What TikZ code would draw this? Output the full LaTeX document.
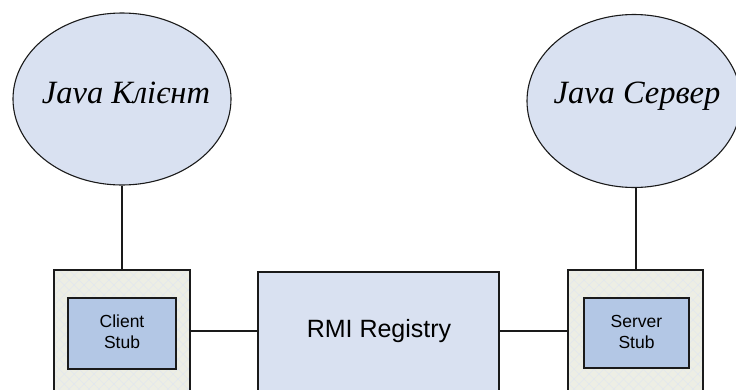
\documentclass[tikz,border=0pt]{standalone}
\usepackage{fontspec}
\setmainfont{Liberation Serif}
\setsansfont{Liberation Sans}
\usetikzlibrary{shapes.geometric,patterns.meta}

\definecolor{ovalfill}{HTML}{D9E1F1}
\definecolor{shellfill}{HTML}{EDEEE4}
\definecolor{hatch}{HTML}{E1E7F0}
\definecolor{stubfill}{HTML}{B3C7E5}
\definecolor{regfill}{HTML}{D9E1F1}
\definecolor{edge}{HTML}{1A1A1A}

\tikzset{
  oval/.style={ellipse, draw=edge, line width=1.1pt, fill=ovalfill,
    minimum width=218pt, minimum height=172pt, inner sep=0pt},
  ovaltext/.style={font=\fontsize{32.5}{38}\selectfont\itshape, anchor=base},
  shell/.style={draw=edge, line width=1.3pt,
    preaction={fill=shellfill},
    preaction={pattern={Lines[angle=45,distance=7pt,line width=0.5pt]}, pattern color=hatch},
    preaction={pattern={Lines[angle=-45,distance=7pt,line width=0.5pt]}, pattern color=hatch}},
  stub/.style={draw=edge, line width=1.3pt, fill=stubfill},
  stubtext/.style={font=\sffamily\fontsize{17.5}{21}\selectfont, align=center},
  registry/.style={draw=edge, line width=1.3pt, fill=regfill},
  link/.style={draw=edge, line width=1.1pt}
}

\begin{document}
\begin{tikzpicture}[x=1pt,y=-1pt]
  \useasboundingbox (0,0) rectangle (736,389);
  \begin{scope}
    \clip (0,0) rectangle (736,389);

    % client and server ovals
    \node[oval] (client) at (122,99) {};
    \node[oval, minimum width=214pt, minimum height=173pt] (server) at (634,101) {};
    \node[ovaltext] (clientlbl) at (126,103) {Java Клієнт};
    \node[ovaltext] (serverlbl) at (637,103) {Java Сервер};

    % outer shells of the stubs (run past the lower edge)
    \path[shell] (54,270) rectangle (190,400);
    \path[shell] (568,270) rectangle (703,400);
    \coordinate (cshelltop) at (122,270);
    \coordinate (sshelltop) at (636,270);
    \coordinate (cshellright) at (190,331);
    \coordinate (sshellleft) at (568,331);

    % inner stubs
    \node[stub, minimum width=108pt, minimum height=71pt, inner sep=0pt] (cstub) at (122,333.5) {};
    \node[stub, minimum width=105pt, minimum height=70pt, inner sep=0pt] (sstub) at (636.5,333) {};
    \node[stubtext] (cstublbl) at (122,332) {Client\\Stub};
    \node[stubtext] (sstublbl) at (636.5,332) {Server\\Stub};

    % registry box
    \path[registry] (258,272) rectangle (499,400);
    \coordinate (regleft) at (258,331);
    \coordinate (regright) at (499,331);
    \node[font=\sffamily\fontsize{25}{30}\selectfont] (reglbl) at (379,331) {RMI Registry};

    % connectors
    \draw[link] (client.south) -- (cshelltop);
    \draw[link] (server.south -| sshelltop) -- (sshelltop);
    \draw[link] (cshellright) -- (regleft);
    \draw[link] (regright) -- (sshellleft);
  \end{scope}
\end{tikzpicture}
\end{document}
